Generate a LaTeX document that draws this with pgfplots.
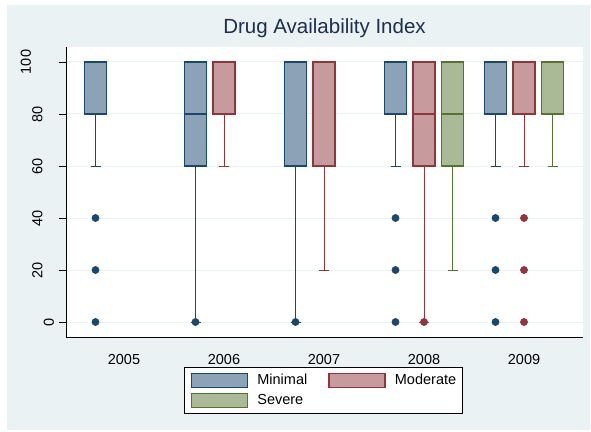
\documentclass[border=0pt]{standalone}
\usepackage{pgfplots}
\pgfplotsset{compat=1.18}
\usepgfplotslibrary{statistics}
\usepackage{fontspec}
\setmainfont{Liberation Sans}
\definecolor{navy}{RGB}{26,71,111}
\definecolor{navyf}{RGB}{140,163,183}
\definecolor{maroon}{RGB}{144,53,59}
\definecolor{maroonf}{RGB}{199,154,157}
\definecolor{forest}{RGB}{85,117,47}
\definecolor{forestf}{RGB}{170,186,151}
\definecolor{bgc}{RGB}{234,242,243}
\definecolor{titlec}{RGB}{30,45,83}
\pgfplotsset{
  mini/.style={draw=navy, fill=navyf, line width=1.2pt, mark=*, mark size=3.6pt, mark options={draw=navy, fill=navy, line width=0.5pt}},
  mode/.style={draw=maroon, fill=maroonf, line width=1.2pt, mark=*, mark size=3.6pt, mark options={draw=maroon, fill=maroon, line width=0.5pt}},
  seve/.style={draw=forest, fill=forestf, line width=1.2pt, mark=*, mark size=3.6pt, mark options={draw=forest, fill=forest, line width=0.5pt}},
}
\begin{document}
\begin{tikzpicture}
\path[use as bounding box] (-66pt,-94pt) rectangle (525pt,337pt);
\fill[bgc] (-59pt,-93pt) rectangle (524pt,332pt);
\begin{axis}[
  at={(0pt,0pt)}, anchor=south west,
  scale only axis, width=517pt, height=290pt,
  xmin=-0.58, xmax=4.59, ymin=-5.77, ymax=105.77,
  axis x line*=bottom, axis y line*=left,
  axis line style={-, black, line width=0.8pt},
  axis background/.style={fill=white},
  font=\fontsize{14.5}{17}\selectfont,
  title={Drug Availability Index},
  title style={font=\fontsize{20.5}{24}\selectfont, color=titlec, at={(0.5,1)}, anchor=base, yshift=7pt},
  xtick={0,1,2,3,4}, xticklabels={2005,2006,2007,2008,2009},
  xtick style={draw=none},
  xticklabel style={anchor=base, yshift=-20pt},
  ytick={0,20,40,60,80,100},
  yticklabels={0,\raisebox{11.5pt}{20},\raisebox{11.5pt}{40},\raisebox{11.5pt}{60},\raisebox{11.5pt}{80},\raisebox{23pt}{100}},
  yticklabel style={xshift=-5pt, rotate=90, anchor=base},
  ytick style={black, line width=0.8pt},
  tick align=outside, major tick length=7pt,
  ymajorgrids, grid style={bgc, line width=1pt},
  boxplot/draw direction=y,
  boxplot/box extend=0.22,
  boxplot/whisker extend=0.1,
  boxplot/every whisker/.style={line width=0.9pt},
  boxplot/every median/.style={line width=1.2pt},
  legend columns=2,
  legend cell align=left,
  legend image code/.code={\path[draw=none, fill=none] (0pt,-10pt) rectangle (66pt,10pt);\draw[#1, line width=1.2pt] (0pt,-7pt) rectangle (56pt,7pt);},
  legend style={at={(0.498,-0.1034)}, anchor=north, draw=black, line width=0.6pt, fill=white,
    font=\fontsize{14.5}{17}\selectfont, row sep=0pt, inner xsep=6pt, inner ysep=3pt,
    nodes={inner sep=0pt},
    /tikz/every even column/.append style={column sep=21pt}},
]
\addlegendimage{draw=navy, fill=navyf}
\addlegendentry{Minimal}
\addlegendimage{draw=maroon, fill=maroonf}
\addlegendentry{Moderate}
\addlegendimage{draw=forest, fill=forestf}
\addlegendentry{Severe}

% Minimal
\addplot[mini, boxplot prepared={draw position=-0.285, lower whisker=60, lower quartile=80, median=100, upper quartile=100, upper whisker=100}]
  table[row sep=\\, y index=0] {40\\20\\0\\};
\addplot[mini, boxplot prepared={draw position=0.715, lower whisker=0, lower quartile=60, median=80, upper quartile=100, upper whisker=100}]
  table[row sep=\\, y index=0] {0\\};
\addplot[mini, boxplot prepared={draw position=1.715, lower whisker=0, lower quartile=60, median=100, upper quartile=100, upper whisker=100}]
  table[row sep=\\, y index=0] {0\\};
\addplot[mini, boxplot prepared={draw position=2.715, lower whisker=60, lower quartile=80, median=100, upper quartile=100, upper whisker=100}]
  table[row sep=\\, y index=0] {40\\20\\0\\};
\addplot[mini, boxplot prepared={draw position=3.715, lower whisker=60, lower quartile=80, median=100, upper quartile=100, upper whisker=100}]
  table[row sep=\\, y index=0] {40\\20\\0\\};
% Moderate
\addplot[mode, boxplot prepared={draw position=1, lower whisker=60, lower quartile=80, median=100, upper quartile=100, upper whisker=100}]
  coordinates {};
\addplot[mode, boxplot prepared={draw position=2, lower whisker=20, lower quartile=60, median=100, upper quartile=100, upper whisker=100}]
  coordinates {};
\addplot[mode, boxplot prepared={draw position=3, lower whisker=0, lower quartile=60, median=80, upper quartile=100, upper whisker=100}]
  table[row sep=\\, y index=0] {0\\};
\addplot[mode, boxplot prepared={draw position=4, lower whisker=60, lower quartile=80, median=100, upper quartile=100, upper whisker=100}]
  table[row sep=\\, y index=0] {40\\20\\0\\};
% Severe
\addplot[seve, boxplot prepared={draw position=3.285, lower whisker=20, lower quartile=60, median=80, upper quartile=100, upper whisker=100}]
  coordinates {};
\addplot[seve, boxplot prepared={draw position=4.285, lower whisker=60, lower quartile=80, median=100, upper quartile=100, upper whisker=100}]
  coordinates {};
\end{axis}
\end{tikzpicture}
\end{document}
